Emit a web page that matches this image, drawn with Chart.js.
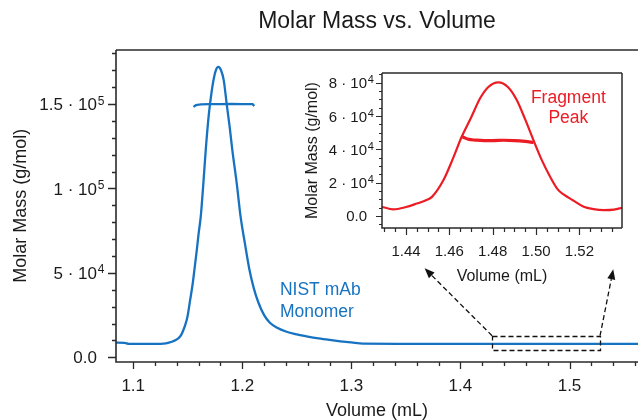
<!DOCTYPE html>
<html><head><meta charset="utf-8">
<script src="https://cdn.jsdelivr.net/npm/chart.js@4.4.1/dist/chart.umd.min.js"></script>
<style>
html,body{margin:0;padding:0;background:#fff;}
#wrap{position:relative;width:638px;height:420px;overflow:hidden;}
#main{position:absolute;left:0;top:0;}
#inset{position:absolute;left:300px;top:60px;}
</style></head><body>
<div id="wrap"><canvas id="main" width="638" height="420"></canvas><canvas id="inset" width="338" height="230"></canvas></div>
<script>
// ---------- data ----------
const monomerVolume = [1.0842,1.092,1.096,1.110,1.125,1.130,1.1354,1.139,1.1414,1.144,1.146,1.148,1.1497,1.1522,1.1546,1.1565,1.1583,1.1600,1.1619,1.1643,1.1665,1.1690,1.1704,1.1730,1.1755,1.1780,1.1805,1.1830,1.1857,1.1885,1.1908,1.1949,1.1985,1.2025,1.2065,1.2105,1.2150,1.2200,1.2253,1.2320,1.2400,1.2500,1.2600,1.2700,1.2800,1.2900,1.3000,1.3107,1.3500,1.4000,1.4500,1.5000,1.5628];
const monomerSignal = [8700,8600,8000,7900,8000,8300,9200,10200,11300,13300,16200,19800,24000,34000,44000,54000,63600,73500,83300,103000,123000,142000,150000,162000,169500,172000,170000,164000,150000,136000,123000,103000,83000,67000,52000,41000,32000,25000,20500,17500,15300,13600,12300,11200,10300,9500,8800,8100,8000,8000,8000,8000,8000];
const monomerMassVolume = [1.1552,1.1575,1.1620,1.1700,1.1800,1.1900,1.2000,1.2095,1.2110];
const monomerMass = [148300,149300,149800,150000,150000,150100,150000,149900,148800];

const fragmentVolume = [1.4288,1.4341,1.4400,1.4450,1.4495,1.4520,1.4573,1.4615,1.4657,1.4700,1.4742,1.4780,1.4826,1.4870,1.4911,1.4950,1.4988,1.5025,1.5065,1.5100,1.5127,1.5170,1.5220,1.5265,1.5312,1.5360,1.5398];
const fragmentSignal = [5600,4000,5400,7500,9600,11500,21600,34000,47600,59000,70700,77500,80300,77500,69700,58000,45600,34000,23600,16000,13000,9500,5600,4200,3600,3900,5000];
const fragmentMassVolume = [1.4655,1.4670,1.4690,1.4720,1.4760,1.4800,1.4850,1.4900,1.4950,1.4988];
const fragmentMass = [48000,47000,46000,45600,45300,45300,45500,45300,44800,44200];

const mainXTickLabels = [1.1,1.2,1.3,1.4,1.5];
const mainYTickValues = [0,50000,100000,150000];
const insetXTickLabels = [1.44,1.46,1.48,1.50,1.52];
const insetYTickValues = [0,20000,40000,60000,80000];

const mainRange = {x:[1.0842,1.5628], y:[-2600,182000]};
const insetRange = {x:[1.4288,1.5398], y:[-7000,85700]};

// annotations (data coordinates of the main plot)
const zoomBox = {x:[1.429,1.528], y:[4300,12800]};
const zoomArrows = [{from:[1.429,12800], to:[1.3672,52700]}, {from:[1.528,12800], to:[1.5401,52100]}];
const monomerLabel = {x:1.2345, y:[39900,26800], lines:['NIST mAb','Monomer']};
const fragmentLabel = {x:1.5149, y:[70600,58600], lines:['Fragment','Peak']};

// ---------- styling ----------
const FONT = '"Liberation Sans", Arial, Helvetica, sans-serif';
const BLUE = '#1773c2';
const RED = '#ec1c24';
const AXIS = '#2a2a2a';
const TEXT = '#1a1a1a';

function pts(xs, ys){ return xs.map((x,i)=>({x, y: ys[i]})); }
function range(a, b, step){ const out=[]; for(let v=a; v<=b+step*1e-6; v+=step) out.push(Math.round(v*1e6)/1e6); return out; }
function sci(v){
  if (v === 0) return {base:'0.0', exp:''};
  const e = Math.floor(Math.log10(v) + 1e-9);
  const m = Math.round(v/Math.pow(10,e)*10)/10;
  return {base: String(m) + ' \u00b7 10', exp: String(e)};
}

const decor = {
  id: 'decor',
  afterDatasetsDraw(chart, args, o) {
    const {ctx} = chart;
    const xs = chart.scales.x, ys = chart.scales.y;
    ctx.save();
    if (o.annot) o.annot(ctx, xs, ys);
    ctx.restore();
  },
  afterDraw(chart, args, o) {
    const {ctx, chartArea: a} = chart;
    const xs = chart.scales.x, ys = chart.scales.y;
    ctx.save();
    ctx.strokeStyle = AXIS; ctx.lineWidth = o.lineWidth; ctx.lineCap = 'butt';
    const L = Math.round(a.left), R = Math.round(a.right), T = Math.round(a.top), B = Math.round(a.bottom);
    ctx.beginPath();
    ctx.moveTo(L, T); ctx.lineTo(R, T);
    ctx.moveTo(L, T); ctx.lineTo(L, B + o.lineWidth/2);
    ctx.moveTo(L - o.lineWidth/2, B); ctx.lineTo(R, B);
    if (o.box) { ctx.moveTo(R, T); ctx.lineTo(R, B); }
    ctx.stroke();
    // ticks
    ctx.lineWidth = o.tickWidth;
    ctx.beginPath();
    o.xMinor.forEach(v => { const p = Math.round(xs.getPixelForValue(v)) + 0.5; ctx.moveTo(p, B); ctx.lineTo(p, B + o.xMinorLen); });
    o.xMajor.forEach(v => { const p = Math.round(xs.getPixelForValue(v)) + 0.5; ctx.moveTo(p, B); ctx.lineTo(p, B + o.xMajorLen); });
    o.yMinor.forEach(v => { const p = Math.round(ys.getPixelForValue(v)) + 0.5; ctx.moveTo(L, p); ctx.lineTo(L - o.yMinorLen, p); });
    o.yMajor.forEach(v => { const p = Math.round(ys.getPixelForValue(v)) + 0.5; ctx.moveTo(L, p); ctx.lineTo(L - o.yMajorLen, p); });
    ctx.stroke();
    // y tick labels with superscript exponents
    ctx.fillStyle = TEXT;
    o.yMajor.forEach(v => {
      const py = ys.getPixelForValue(v);
      const s = sci(v);
      const bx = L - o.yLabelGap;
      ctx.font = o.yFont + 'px ' + FONT; ctx.textAlign = 'right'; ctx.textBaseline = 'alphabetic';
      ctx.fillText(s.base, bx, py + o.yFont * 0.36);
      if (s.exp) {
        ctx.font = o.supFont + 'px ' + FONT; ctx.textAlign = 'left';
        ctx.fillText(s.exp, bx + 0.8, py + o.supDy);
      }
    });
    ctx.restore();
  }
};

function drawArrow(ctx, x0, y0, x1, y1){
  ctx.save();
  ctx.strokeStyle = '#111'; ctx.fillStyle = '#111'; ctx.lineWidth = 1.3;
  const ang = Math.atan2(y1 - y0, x1 - x0);
  const hl = 10, hw = 4;
  const bx = x1 - hl*Math.cos(ang), by = y1 - hl*Math.sin(ang);
  ctx.setLineDash([5,3]);
  ctx.beginPath(); ctx.moveTo(x0, y0); ctx.lineTo(bx, by); ctx.stroke();
  ctx.setLineDash([]);
  ctx.beginPath();
  ctx.moveTo(x1, y1);
  ctx.lineTo(bx + hw*Math.sin(ang), by - hw*Math.cos(ang));
  ctx.lineTo(bx - hw*Math.sin(ang), by + hw*Math.cos(ang));
  ctx.closePath(); ctx.fill();
  ctx.restore();
}

function textLines(ctx, xs, ys, lab, size, color, align){
  ctx.fillStyle = color; ctx.font = size + 'px ' + FONT;
  ctx.textAlign = align; ctx.textBaseline = 'middle';
  lab.lines.forEach((t,i) => ctx.fillText(t, xs.getPixelForValue(lab.x), ys.getPixelForValue(lab.y[i])));
}

const commonOpts = {
  responsive: false, animation: false, devicePixelRatio: 1,
  events: [],
  elements: { point: { radius: 0 } },
};

new Chart(document.getElementById('main'), {
  type: 'line',
  data: { datasets: [
    { data: pts(monomerVolume, monomerSignal), borderColor: BLUE, borderWidth: 2.3, cubicInterpolationMode: 'monotone', fill: false },
    { data: pts(monomerMassVolume, monomerMass), borderColor: BLUE, borderWidth: 2.3, tension: 0, fill: false },
  ]},
  options: Object.assign({}, commonOpts, {
    layout: { padding: 0 },
    plugins: {
      legend: { display: false }, tooltip: { enabled: false },
      title: { display: true, text: 'Molar Mass vs. Volume', fullSize: false, color: TEXT,
        font: { family: FONT, size: 23, weight: 'normal', lineHeight: 1.2 }, padding: { top: 8, bottom: 14.4 } },
      decor: {
        lineWidth: 1.6, tickWidth: 1.3, box: false,
        xMajor: mainXTickLabels, xMinor: range(1.10, 1.56, 0.02), xMajorLen: 7, xMinorLen: 4,
        yMajor: mainYTickValues, yMinor: range(0, 180000, 10000), yMajorLen: 8, yMinorLen: 4,
        yFont: 17, supFont: 12, supDy: 0.5, yLabelGap: 19,
        annot: (ctx, xs, ys) => {
          ctx.strokeStyle = '#111'; ctx.lineWidth = 1.3; ctx.setLineDash([5,3]);
          const x0 = Math.round(xs.getPixelForValue(zoomBox.x[0])) + 0.5, x1 = Math.round(xs.getPixelForValue(zoomBox.x[1])) + 0.5;
          const y0 = Math.round(ys.getPixelForValue(zoomBox.y[1])) + 0.5, y1 = Math.round(ys.getPixelForValue(zoomBox.y[0])) + 0.5;
          ctx.strokeRect(x0, y0, x1 - x0, y1 - y0);
          ctx.setLineDash([]);
          zoomArrows.forEach(ar => drawArrow(ctx,
            xs.getPixelForValue(ar.from[0]), ys.getPixelForValue(ar.from[1]),
            xs.getPixelForValue(ar.to[0]), ys.getPixelForValue(ar.to[1])));
          textLines(ctx, xs, ys, monomerLabel, 17.5, BLUE, 'left');
        }
      }
    },
    scales: {
      x: { type: 'linear', min: mainRange.x[0], max: mainRange.x[1],
        afterFit: s => { s.height = 58.3; },
        grid: { display: false, drawTicks: false }, border: { display: false },
        ticks: { stepSize: 0.1, includeBounds: false, autoSkip: false, maxRotation: 0, padding: 14,
          color: TEXT, font: { family: FONT, size: 17 },
          callback: v => mainXTickLabels.some(t => Math.abs(t - v) < 1e-6) ? v.toFixed(1) : '' },
        title: { display: true, text: 'Volume (mL)', color: TEXT, font: { family: FONT, size: 18, lineHeight: 1 }, padding: { top: 0, bottom: 0 } }
      },
      y: { type: 'linear', min: mainRange.y[0], max: mainRange.y[1],
        afterFit: s => { s.width = 116; },
        grid: { display: false, drawTicks: false }, border: { display: false },
        ticks: { display: false },
        title: { display: true, text: 'Molar Mass (g/mol)', color: TEXT, font: { family: FONT, size: 18, lineHeight: 1 }, padding: { top: 12.5, bottom: 0 } }
      }
    }
  }),
  plugins: [decor]
});

new Chart(document.getElementById('inset'), {
  type: 'line',
  data: { datasets: [
    { data: pts(fragmentVolume, fragmentSignal), borderColor: RED, borderWidth: 2.2, cubicInterpolationMode: 'monotone', fill: false },
    { data: pts(fragmentMassVolume, fragmentMass), borderColor: RED, borderWidth: 3.2, cubicInterpolationMode: 'monotone', fill: false },
  ]},
  options: Object.assign({}, commonOpts, {
    layout: { padding: { top: 13.3, right: 15.7, left: 0, bottom: 0 } },
    plugins: {
      legend: { display: false }, tooltip: { enabled: false },
      decor: {
        lineWidth: 1.5, tickWidth: 1.2, box: true,
        xMajor: insetXTickLabels, xMinor: range(1.430, 1.535, 0.005), xMajorLen: 7, xMinorLen: 4,
        yMajor: insetYTickValues, yMinor: range(-5000, 85000, 5000), yMajorLen: 6, yMinorLen: 3,
        yFont: 15, supFont: 11, supDy: 0.5, yLabelGap: 15,
        annot: (ctx, xs, ys) => { textLines(ctx, xs, ys, fragmentLabel, 17.5, RED, 'center'); }
      }
    },
    scales: {
      x: { type: 'linear', min: insetRange.x[0], max: insetRange.x[1],
        afterFit: s => { s.height = 62.3; },
        grid: { display: false, drawTicks: false }, border: { display: false },
        ticks: { stepSize: 0.02, includeBounds: false, autoSkip: false, maxRotation: 0, padding: 15,
          color: TEXT, font: { family: FONT, size: 15 },
          callback: v => insetXTickLabels.some(t => Math.abs(t - v) < 1e-6) ? v.toFixed(2) : '' },
        title: { display: true, text: 'Volume (mL)', color: TEXT, font: { family: FONT, size: 16, lineHeight: 1 }, padding: { top: 0, bottom: 5 } }
      },
      y: { type: 'linear', min: insetRange.y[0], max: insetRange.y[1],
        afterFit: s => { s.width = 81.7; },
        grid: { display: false, drawTicks: false }, border: { display: false },
        ticks: { display: false },
        title: { display: true, text: 'Molar Mass (g/mol)', color: TEXT, font: { family: FONT, size: 16, lineHeight: 1 }, padding: { top: 4.5, bottom: 0 } }
      }
    }
  }),
  plugins: [decor]
});
</script>
</body></html>
